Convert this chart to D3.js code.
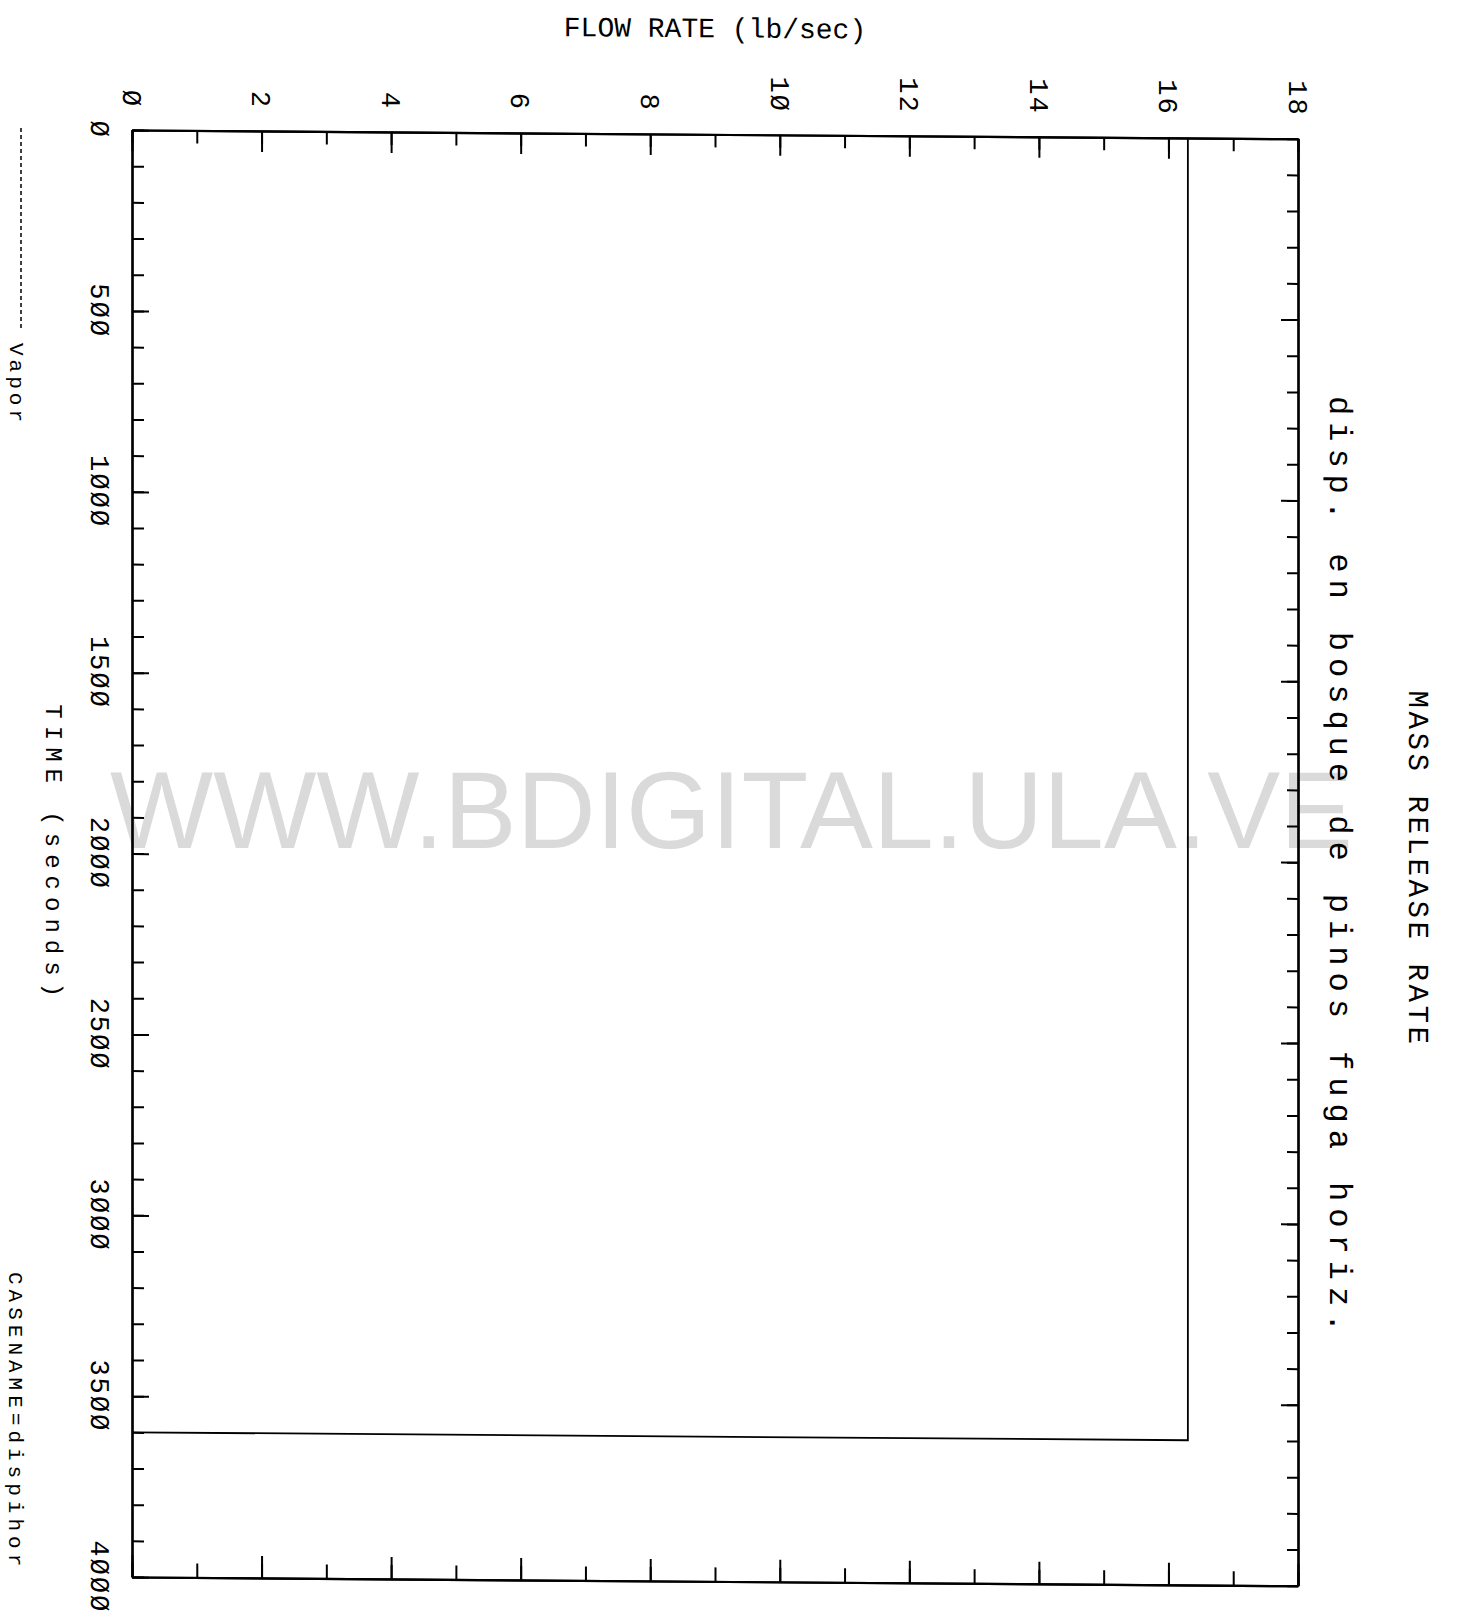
<!DOCTYPE html>
<html>
<head>
<meta charset="utf-8">
<script src="https://cdn.jsdelivr.net/npm/d3@7"></script>
<style>
  html, body { margin: 0; padding: 0; background: #fff; }
  svg { display: block; }
  .mono { font-family: "Liberation Mono", "DejaVu Sans Mono", monospace; fill: #000; }
</style>
</head>
<body>
<script>
// Mass release rate history (vapor), time in seconds, flow in lb/sec
const timeSec = [0, 3600, 3600];
const flowRate = [16.3, 16.3, 0];

// axis ticks
const flowMajorTicks = [0, 2, 4, 6, 8, 10, 12, 14, 16, 18];
const flowMinorTicks = d3.range(0, 19, 1);
const timeMajorTicks = [0, 500, 1000, 1500, 2000, 2500, 3000, 3500, 4000];
const timeMinorTicks = d3.range(0, 4001, 100);

// texts
const chartTitle = "MASS RELEASE RATE";
const chartSubtitle = "disp. en bosque de pinos fuga horiz.";
const flowAxisTitle = "FLOW RATE (lb/sec)";
const timeAxisTitle = "TIME (seconds)";
const seriesName = "Vapor";
const caseLabel = "CASENAME=dispihor";
const watermark = "WWW.BDIGITAL.ULA.VE";

// plotter-style numerals use a slashed zero
const plotterNum = d => String(d).replace(/0/g, "\u00D8");

const W = 1458, H = 1619;
const svg = d3.select("body").append("svg").attr("width", W).attr("height", H);

// page watermark behind the plot
svg.append("text")
  .attr("x", 110).attr("y", 848)
  .attr("font-family", "'Liberation Sans', Arial, sans-serif")
  .attr("font-size", 109)
  .attr("textLength", 1243).attr("lengthAdjust", "spacingAndGlyphs")
  .attr("fill", "#dadada")
  .text(watermark);

// plotted sheet is slightly sheared; keep the left edge fixed
const edgeL = 132, edgeR = 1298, edgeT = 130, edgeB = 1577;
const k = 0.0075;
const g = svg.append("g")
  .attr("transform", `matrix(1,${k},0,1,0,${-k * edgeL})`);

const x = d3.scaleLinear().domain([0, 18]).range([edgeL, edgeR]);
const y = d3.scaleLinear().domain([0, 4000]).range([edgeT, edgeB]);

function styleAxis(sel) {
  sel.selectAll("path.domain").attr("stroke", "#000").attr("stroke-width", 2.2);
  sel.selectAll(".tick line").attr("stroke", "#000").attr("stroke-width", 2);
  sel.selectAll(".tick text").remove();
}

// flow axis along the top and bottom edges, ticks pointing inward
g.append("g").attr("transform", `translate(0,${edgeT})`)
  .call(d3.axisTop(x).tickValues(flowMinorTicks).tickSizeInner(-13).tickSizeOuter(0)).call(styleAxis);
g.append("g").attr("transform", `translate(0,${edgeT})`)
  .call(d3.axisTop(x).tickValues(flowMajorTicks).tickSizeInner(-21).tickSizeOuter(0)).call(styleAxis);
g.append("g").attr("transform", `translate(0,${edgeB})`)
  .call(d3.axisBottom(x).tickValues(flowMinorTicks).tickSizeInner(-14).tickSizeOuter(0)).call(styleAxis);
g.append("g").attr("transform", `translate(0,${edgeB})`)
  .call(d3.axisBottom(x).tickValues(flowMajorTicks).tickSizeInner(-22).tickSizeOuter(0)).call(styleAxis);

// time axis along the left and right edges, ticks pointing inward
g.append("g").attr("transform", `translate(${edgeL},0)`)
  .call(d3.axisLeft(y).tickValues(timeMinorTicks).tickSizeInner(-12).tickSizeOuter(0)).call(styleAxis);
g.append("g").attr("transform", `translate(${edgeL},0)`)
  .call(d3.axisLeft(y).tickValues(timeMajorTicks).tickSizeInner(-17).tickSizeOuter(0)).call(styleAxis);
g.append("g").attr("transform", `translate(${edgeR},0)`)
  .call(d3.axisRight(y).tickValues(timeMinorTicks).tickSizeInner(-11).tickSizeOuter(0)).call(styleAxis);
g.append("g").attr("transform", `translate(${edgeR},0)`)
  .call(d3.axisRight(y).tickValues(timeMajorTicks).tickSizeInner(-17).tickSizeOuter(0)).call(styleAxis);

// flow tick labels, turned a quarter clockwise
g.append("g").selectAll("text").data(flowMajorTicks).join("text")
  .attr("class", "mono")
  .attr("transform", d => `translate(${x(d)},108) rotate(90)`)
  .attr("dy", "0.34em")
  .attr("text-anchor", "end")
  .attr("font-size", 27)
  .attr("letter-spacing", 2)
  .text(plotterNum);

// time tick labels
g.append("g").selectAll("text").data(timeMajorTicks).join("text")
  .attr("class", "mono")
  .attr("transform", d => `translate(100,${y(d)}) rotate(90)`)
  .attr("dy", "0.34em")
  .attr("text-anchor", "middle")
  .attr("font-size", 27)
  .attr("letter-spacing", 2)
  .text(plotterNum);

// release-rate trace
const line = d3.line().x(d => x(d[1])).y(d => y(d[0]));
g.append("path")
  .datum(d3.zip(timeSec, flowRate))
  .attr("d", line)
  .attr("fill", "none")
  .attr("stroke", "#000")
  .attr("stroke-width", 1.8);

// axis titles
g.append("text").attr("class", "mono")
  .attr("x", (edgeL + edgeR) / 2).attr("y", 33)
  .attr("text-anchor", "middle")
  .attr("font-size", 28)
  .text(flowAxisTitle);

g.append("text").attr("class", "mono")
  .attr("transform", `translate(46,705) rotate(90)`)
  .attr("font-size", 24)
  .attr("letter-spacing", 7)
  .text(timeAxisTitle);

// titles on the right
g.append("text").attr("class", "mono")
  .attr("transform", `translate(1409,681) rotate(90)`)
  .attr("font-size", 29)
  .attr("letter-spacing", 3.6)
  .text(chartTitle);

g.append("text").attr("class", "mono")
  .attr("transform", `translate(1330,387) rotate(90)`)
  .attr("font-size", 32)
  .attr("letter-spacing", 7)
  .text(chartSubtitle);

// legend
svg.append("line")
  .attr("x1", 21).attr("x2", 21).attr("y1", 128).attr("y2", 330)
  .attr("stroke", "#000").attr("stroke-width", 1.5)
  .attr("stroke-dasharray", "4,3");

svg.append("text").attr("class", "mono")
  .attr("transform", `translate(10,343) rotate(90)`)
  .attr("font-size", 21)
  .attr("letter-spacing", 4)
  .text(seriesName);

svg.append("text").attr("class", "mono")
  .attr("transform", `translate(9,1272) rotate(90)`)
  .attr("font-size", 21)
  .attr("letter-spacing", 5)
  .text(caseLabel);
</script>
</body>
</html>
